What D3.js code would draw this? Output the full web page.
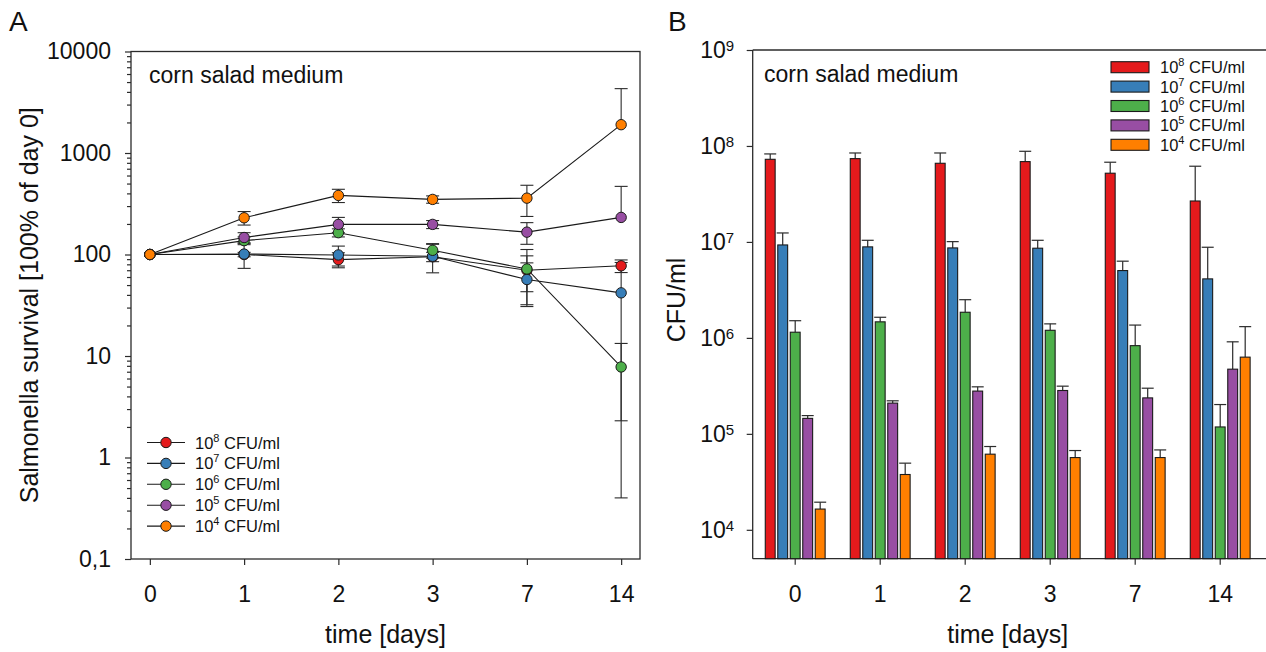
<!DOCTYPE html>
<html>
<head>
<meta charset="utf-8">
<script src="https://cdn.jsdelivr.net/npm/d3@7"></script>
<style>
  html, body { margin: 0; padding: 0; background: #fff; }
  svg { display: block; font-family: "Liberation Sans", Arial, sans-serif; }
</style>
</head>
<body>
<svg id="chart" width="1266" height="652"></svg>
<script>
// ---- data ----------------------------------------------------------------
const days = ["0", "1", "2", "3", "7", "14"];
const inocula = ["8", "7", "6", "5", "4"];          // exponent of CFU/ml
const colors = ["#e41a1c", "#377eb8", "#4daf4a", "#984ea3", "#ff7f00"];

// Panel A: survival relative to day 0 [%] and standard deviation
const survival8  = [100, 100, 89, 95, 70, 77.4];
const survival7  = [100, 101, 99, 96, 56.7, 41.9];
const survival6  = [100, 137, 164, 110, 72, 7.8];
const survival5  = [100, 147, 198, 198, 166, 232];
const survival4  = [100, 230, 382, 349, 359, 1901];
const survSd8 = [0, 5, 15, 10, 27, 11];
const survSd7 = [0, 28, 22, 30, 26, 41.5];
const survSd6 = [0, 12, 15, 18, 40, 5.5];
const survSd5 = [0, 17, 34, 18, 40, 237];
const survSd4 = [0, 35, 57, 29, 122, 2405];

// Panel B: absolute counts [CFU/ml] and standard deviation
const cfu8 = [7.26e7, 7.38e7, 6.6e7, 6.87e7, 5.2e7, 2.67e7];
const cfu7 = [9.3e6, 8.88e6, 8.66e6, 8.6e6, 5.03e6, 4.12e6];
const cfu6 = [1.146e6, 1.47e6, 1.85e6, 1.2e6, 8.3e5, 1.18e5];
const cfu5 = [1.45e5, 2.09e5, 2.79e5, 2.83e5, 2.37e5, 4.72e5];
const cfu4 = [1.645e4, 3.77e4, 6.14e4, 5.66e4, 5.66e4, 6.3e5];
const cfuSd8 = [1.0e7, 1.07e7, 1.85e7, 1.93e7, 1.57e7, 3.48e7];
const cfuSd7 = [3.1e6, 1.52e6, 1.41e6, 1.8e6, 1.27e6, 4.68e6];
const cfuSd6 = [3.64e5, 1.7e5, 6.5e5, 2.0e5, 5.3e5, 8.4e4];
const cfuSd5 = [1.0e4, 1.2e4, 3.0e4, 3.1e4, 6.2e4, 4.38e5];
const cfuSd4 = [2.95e3, 1.18e4, 1.24e4, 1.04e4, 1.14e4, 6.8e5];

const ticksA = [0.1, 1, 10, 100, 1000, 10000];
const ticksB = [1e4, 1e5, 1e6, 1e7, 1e8, 1e9];

const survival = [survival8, survival7, survival6, survival5, survival4];
const survSd = [survSd8, survSd7, survSd6, survSd5, survSd4];
const cfu = [cfu8, cfu7, cfu6, cfu5, cfu4];
const cfuSd = [cfuSd8, cfuSd7, cfuSd6, cfuSd5, cfuSd4];

// ---- setup ---------------------------------------------------------------
const svg = d3.select("#chart");
const ink = "#2b2b2b";
const tickFont = 23, titleFont = 25, legendFont = 16.5;

function styleAxis(g, size) {
  g.select(".domain").remove();
  g.selectAll("line").attr("stroke", ink).attr("stroke-width", 1.2);
  g.selectAll("text").attr("fill", "#111").attr("font-size", size)
    .attr("font-family", "Liberation Sans, Arial, sans-serif");
}

// ======================= Panel A ==========================================
const A = { left: 131, right: 640, top: 51.5, bottom: 559 };
const xA = d3.scalePoint().domain(days).range([A.left, A.right]).padding(0.2);
const yA = d3.scaleLog().domain([0.1, 10000]).range([A.bottom, A.top]);

const gA = svg.append("g");

// minor ticks (2..9 per decade)
const minorA = [];
ticksA.slice(0, -1).forEach(d => { for (let k = 2; k <= 9; k++) minorA.push(d * k); });
gA.append("g").attr("transform", `translate(${A.left},0)`)
  .call(d3.axisLeft(yA).tickValues(minorA).tickSize(4).tickFormat(""))
  .call(g => styleAxis(g, tickFont));

gA.append("g").attr("transform", `translate(${A.left},0)`)
  .call(d3.axisLeft(yA).tickValues(ticksA).tickSize(6).tickPadding(14)
    .tickFormat(d => d < 1 ? String(d).replace(".", ",") : d3.format("d")(d)))
  .call(g => styleAxis(g, tickFont));

gA.append("g").attr("transform", `translate(0,${A.bottom})`)
  .call(d3.axisBottom(xA).tickSize(6).tickPadding(21))
  .call(g => styleAxis(g, tickFont));

gA.append("rect")
  .attr("x", A.left).attr("y", A.top)
  .attr("width", A.right - A.left).attr("height", A.bottom - A.top)
  .attr("fill", "none").attr("stroke", ink).attr("stroke-width", 1.3);

// connecting lines
const lineA = d3.line().x((d, i) => xA(days[i])).y(d => yA(d));
survival.forEach(s => {
  gA.append("path").attr("d", lineA(s))
    .attr("fill", "none").attr("stroke", "#1a1a1a").attr("stroke-width", 1.1);
});

// error bars (lower arm omitted where it would fall below zero)
const capA = 6.5;
survival.forEach((s, si) => {
  s.forEach((v, i) => {
    const sd = survSd[si][i];
    if (!sd) return;
    const x = xA(days[i]);
    const hi = v + sd, lo = v - sd;
    const yTop = yA(hi);
    const yBot = lo > 0 ? yA(lo) : yA(v);
    gA.append("line").attr("x1", x).attr("x2", x).attr("y1", yTop).attr("y2", yBot)
      .attr("stroke", ink).attr("stroke-width", 1.1);
    gA.append("line").attr("x1", x - capA).attr("x2", x + capA).attr("y1", yTop).attr("y2", yTop)
      .attr("stroke", ink).attr("stroke-width", 1.1);
    if (lo > 0) {
      gA.append("line").attr("x1", x - capA).attr("x2", x + capA).attr("y1", yBot).attr("y2", yBot)
        .attr("stroke", ink).attr("stroke-width", 1.1);
    }
  });
});

// markers
survival.forEach((s, si) => {
  gA.selectAll(null).data(s).join("circle")
    .attr("cx", (d, i) => xA(days[i])).attr("cy", d => yA(d)).attr("r", 5.2)
    .attr("fill", colors[si]).attr("stroke", "#1a1a1a").attr("stroke-width", 1);
});

gA.append("text").attr("x", 149).attr("y", 83).attr("font-size", 23).attr("fill", "#111")
  .text("corn salad medium");

// legend A
inocula.forEach((e, i) => {
  const y = 442.5 + i * 20.9;
  gA.append("line").attr("x1", 147).attr("x2", 185).attr("y1", y).attr("y2", y)
    .attr("stroke", "#1a1a1a").attr("stroke-width", 1.1);
  gA.append("circle").attr("cx", 166).attr("cy", y).attr("r", 5.2)
    .attr("fill", colors[i]).attr("stroke", "#1a1a1a").attr("stroke-width", 1);
  const t = gA.append("text").attr("x", 195).attr("y", y + 6)
    .attr("font-size", legendFont).attr("fill", "#111");
  t.append("tspan").text("10");
  t.append("tspan").attr("dy", -7).attr("font-size", 11).text(e);
  t.append("tspan").attr("dy", 7).text(" CFU/ml");
});

// titles A
svg.append("text").attr("x", 9).attr("y", 31).attr("font-size", 28).attr("fill", "#111").text("A");
svg.append("text").attr("x", 385.5).attr("y", 643).attr("text-anchor", "middle")
  .attr("font-size", titleFont).attr("fill", "#111").text("time [days]");
svg.append("text").attr("transform", `translate(38,${(A.top + A.bottom) / 2}) rotate(-90)`)
  .attr("text-anchor", "middle").attr("font-size", titleFont).attr("fill", "#111")
  .text("Salmonella survival [100% of day 0]");

// ======================= Panel B ==========================================
const B = { left: 752.7, right: 1262.7, top: 50, bottom: 558.7 };
const x0 = d3.scaleBand().domain(days).range([B.left, B.right])
  .paddingInner(0.265).paddingOuter(0.1325);
const x1 = d3.scaleBand().domain(inocula).range([0, x0.bandwidth()])
  .paddingInner(0.21).paddingOuter(0.105);
const yB = d3.scaleLog().domain([5000, 1e9]).range([B.bottom, B.top]);

const gB = svg.append("g");

gB.append("g").attr("transform", `translate(${B.left},0)`)
  .call(d3.axisLeft(yB).tickValues(ticksB).tickSize(6).tickPadding(12.5).tickFormat(""))
  .call(g => styleAxis(g, tickFont))
  .call(g => g.selectAll(".tick text").each(function (d) {
    const t = d3.select(this);
    t.text(null);
    t.append("tspan").text("10");
    t.append("tspan").attr("dy", "-0.45em").attr("font-size", 15).text(Math.round(Math.log10(d)));
  }));

gB.append("g").attr("transform", `translate(0,${B.bottom})`)
  .call(d3.axisBottom(x0).tickSize(6).tickPadding(21))
  .call(g => styleAxis(g, tickFont));

// frame: left, top and bottom lines
gB.append("line").attr("x1", B.left).attr("x2", B.left).attr("y1", B.top).attr("y2", B.bottom)
  .attr("stroke", ink).attr("stroke-width", 1.3);
gB.append("line").attr("x1", B.left).attr("x2", 1266).attr("y1", B.top).attr("y2", B.top)
  .attr("stroke", ink).attr("stroke-width", 1.3);
gB.append("line").attr("x1", B.left).attr("x2", 1266).attr("y1", B.bottom).attr("y2", B.bottom)
  .attr("stroke", ink).attr("stroke-width", 1.3);

// bars + upper error bars
const capB = 6;
cfu.forEach((s, si) => {
  s.forEach((v, i) => {
    const bx = x0(days[i]) + x1(inocula[si]);
    const bw = x1.bandwidth();
    const cx = bx + bw / 2;
    const yTop = yB(v + cfuSd[si][i]);
    gB.append("line").attr("x1", cx).attr("x2", cx).attr("y1", yTop).attr("y2", yB(v))
      .attr("stroke", ink).attr("stroke-width", 1.2);
    gB.append("line").attr("x1", cx - capB).attr("x2", cx + capB).attr("y1", yTop).attr("y2", yTop)
      .attr("stroke", ink).attr("stroke-width", 1.2);
    gB.append("rect").attr("x", bx).attr("y", yB(v))
      .attr("width", bw).attr("height", B.bottom - yB(v))
      .attr("fill", colors[si]).attr("stroke", "#1a1a1a").attr("stroke-width", 1.1);
  });
});

gB.append("text").attr("x", 764).attr("y", 82).attr("font-size", 23).attr("fill", "#111")
  .text("corn salad medium");

// legend B
inocula.forEach((e, i) => {
  const y = 61.7 + i * 19.4;
  gB.append("rect").attr("x", 1111).attr("y", y).attr("width", 38).attr("height", 11)
    .attr("fill", colors[i]).attr("stroke", "#1a1a1a").attr("stroke-width", 1.1);
  const t = gB.append("text").attr("x", 1160).attr("y", y + 11.5)
    .attr("font-size", legendFont).attr("fill", "#111");
  t.append("tspan").text("10");
  t.append("tspan").attr("dy", -7).attr("font-size", 11).text(e);
  t.append("tspan").attr("dy", 7).text(" CFU/ml");
});

// titles B
svg.append("text").attr("x", 668).attr("y", 31).attr("font-size", 28).attr("fill", "#111").text("B");
svg.append("text").attr("x", (B.left + B.right) / 2).attr("y", 643).attr("text-anchor", "middle")
  .attr("font-size", titleFont).attr("fill", "#111").text("time [days]");
svg.append("text").attr("transform", `translate(685,300) rotate(-90)`)
  .attr("text-anchor", "middle").attr("font-size", titleFont).attr("fill", "#111")
  .text("CFU/ml");
</script>
</body>
</html>
